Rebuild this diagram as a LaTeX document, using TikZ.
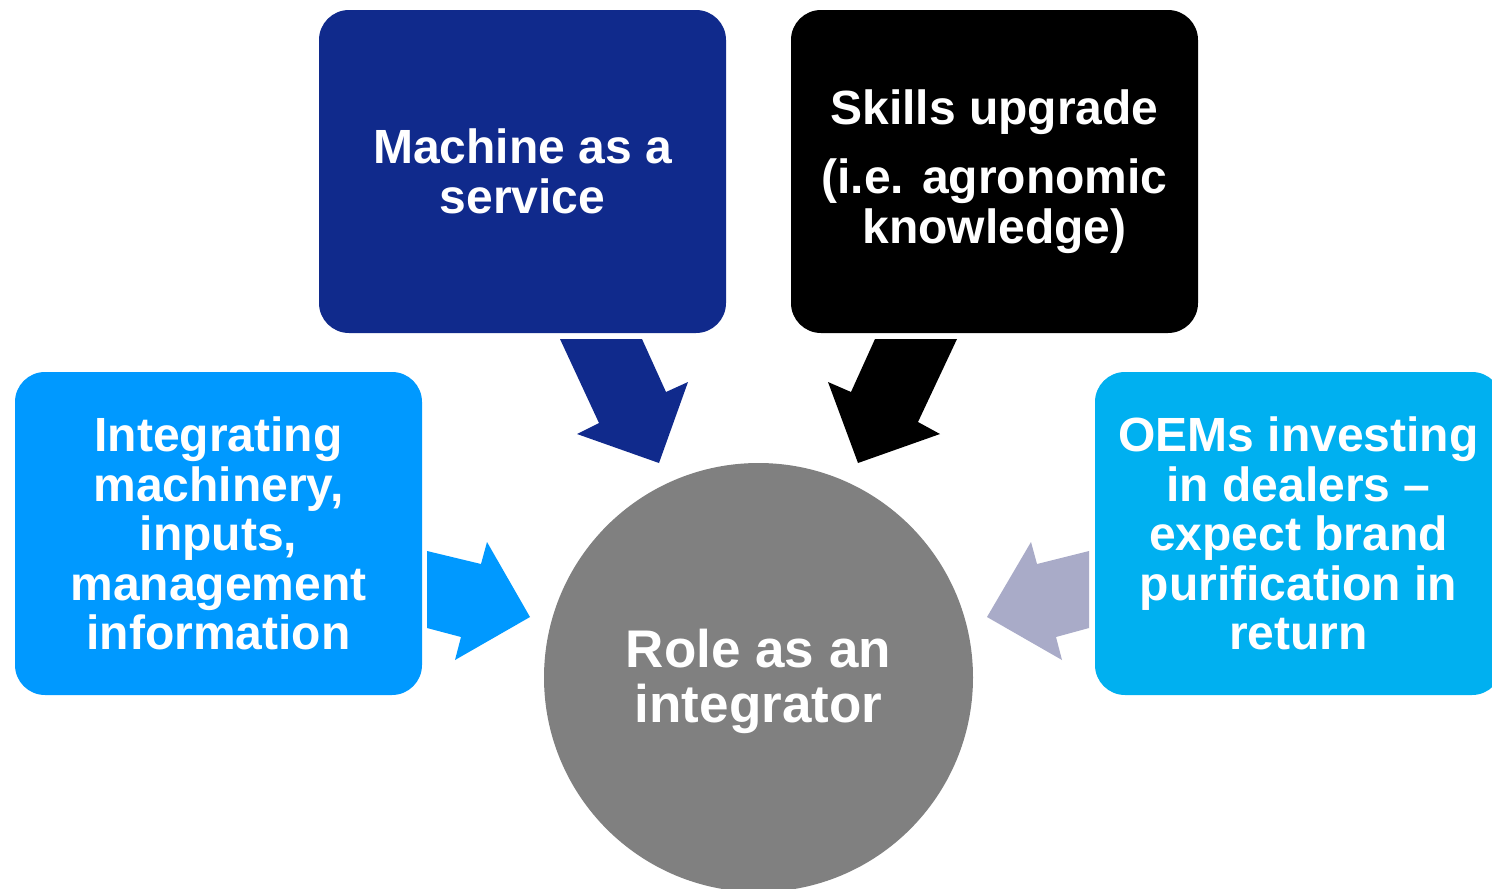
\documentclass[tikz,border=0pt]{standalone}
\usepackage{fontspec}
\setmainfont{Liberation Sans}
\definecolor{navyblue}{HTML}{102A8C}
\definecolor{brightblue}{HTML}{0099FF}
\definecolor{skyblue}{HTML}{00B0F0}
\definecolor{lavgray}{HTML}{A9ABC8}
\definecolor{circgray}{HTML}{808080}
\begin{document}
\begin{tikzpicture}[x=1pt,y=-1pt,
  box/.style={rounded corners=30pt, minimum width=407pt, minimum height=323pt,
    inner sep=0pt, text=white, align=center,
    font=\fontsize{48pt}{49.5pt}\selectfont\bfseries},
  hub/.style={circle, fill=circgray, minimum size=429pt, inner sep=0pt, text=white,
    align=center, font=\fontsize{53pt}{55pt}\selectfont\bfseries}]
\useasboundingbox (0,0) rectangle (1492,889);
\clip (0,0) rectangle (1492,889);
\fill[white] (0,0) rectangle (1492,889);

\node[box, fill=navyblue] (mach) at (522.5,171.5) {Machine as a\\service};
\node[box, fill=black] (skill) at (994.5,171.5) {Skills upgrade\\[20pt](i.e. agronomic\\knowledge)};
\node[box, fill=brightblue] (integ) at (218.5,533.5) {Integrating\\machinery,\\inputs,\\management\\information};
\node[box, fill=skyblue] (oem) at (1298.5,533.5) {OEMs investing\\in dealers --\\expect brand\\purification in\\return};
\node[hub] (role) at (758.5,677.5) {};
\node[text=white, align=center, font=\fontsize{53pt}{55pt}\selectfont\bfseries] (roletxt) at (758.5,681) {Role as an\\integrator};

% block arrows
\fill[navyblue] (560,339) -- (642,339) -- (666,392) -- (688,382) -- (659,463) -- (577,434) -- (599,423) -- cycle;
\fill[black] (875,339) -- (957,339) -- (918,422) -- (940,434) -- (858,463) -- (828,382) -- (851,392) -- cycle;
\fill[brightblue] (427,551) -- (481,564) -- (487,542) -- (530,617) -- (455,660) -- (461,637) -- (427,628) -- cycle;
\fill[lavgray] (1089,551) -- (1037,564) -- (1031,542) -- (987,617) -- (1062,660) -- (1056,637) -- (1089,628) -- cycle;
\end{tikzpicture}
\end{document}
